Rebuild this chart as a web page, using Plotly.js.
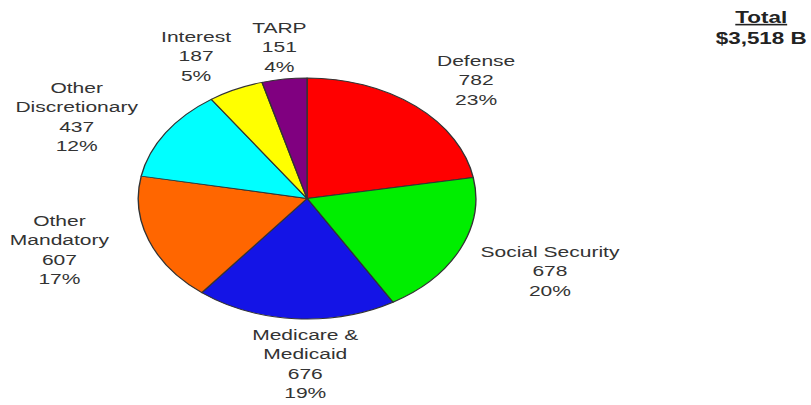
<!DOCTYPE html>
<html>
<head>
<meta charset="utf-8">
<script src="https://cdn.plot.ly/plotly-3.0.1.min.js"></script>
<style>
  html, body { margin: 0; padding: 0; background: #ffffff; overflow: hidden; }
  #chart { width: 579px; height: 405px; transform: scaleX(1.4007); transform-origin: 0 0; }
</style>
</head>
<body>
<div id="chart"></div>
<script>
// ---- data ----
const categories = ["Defense", "Social Security", "Medicare &amp;<br>Medicaid", "Other<br>Mandatory", "Other<br>Discretionary", "Interest", "TARP"];
const values = [782, 678, 676, 607, 437, 187, 151];
const pctLabels = ["23%", "20%", "19%", "17%", "12%", "5%", "4%"];
const totalLabel = "$3,518 B";

// ---- styles / positions (not data) ----
const colors = ["#ff0000", "#00ee00", "#1414e6", "#ff6600", "#00ffff", "#ffff00", "#800080"];
const labelPos = [
  [0.587, 0.802], [0.678, 0.331], [0.376, 0.102], [0.074, 0.383],
  [0.095, 0.711], [0.243, 0.862], [0.345, 0.883]
];
const font = { family: "Liberation Sans, Arial, sans-serif", size: 15, color: "#333333" };

const annotations = categories.map((c, i) => ({
  text: c + "<br>" + values[i] + "<br>" + pctLabels[i],
  x: labelPos[i][0], y: labelPos[i][1], xref: "paper", yref: "paper",
  xanchor: "center", yanchor: "middle", align: "center", showarrow: false, font: font
}));
annotations.push({
  text: "<b><u>Total</u><br>" + totalLabel + "</b>",
  x: 0.938, y: 0.93, xref: "paper", yref: "paper",
  xanchor: "center", yanchor: "middle", align: "center", showarrow: false,
  font: { family: "Liberation Sans, Arial, sans-serif", size: 16, color: "#222222" }
});

const trace = {
  type: "pie",
  labels: categories,
  values: values,
  sort: false,
  direction: "clockwise",
  rotation: 0,
  textinfo: "none",
  hoverinfo: "skip",
  marker: { colors: colors, line: { color: "#333333", width: 1 } },
  domain: { x: [0.1686, 0.5886], y: [0.2124, 0.8074] }
};

const layout = {
  width: 579, height: 405,
  margin: { l: 0, r: 0, t: 0, b: 0 },
  paper_bgcolor: "#ffffff",
  showlegend: false,
  annotations: annotations
};

Plotly.newPlot("chart", [trace], layout, { staticPlot: true, displayModeBar: false });
</script>
</body>
</html>
